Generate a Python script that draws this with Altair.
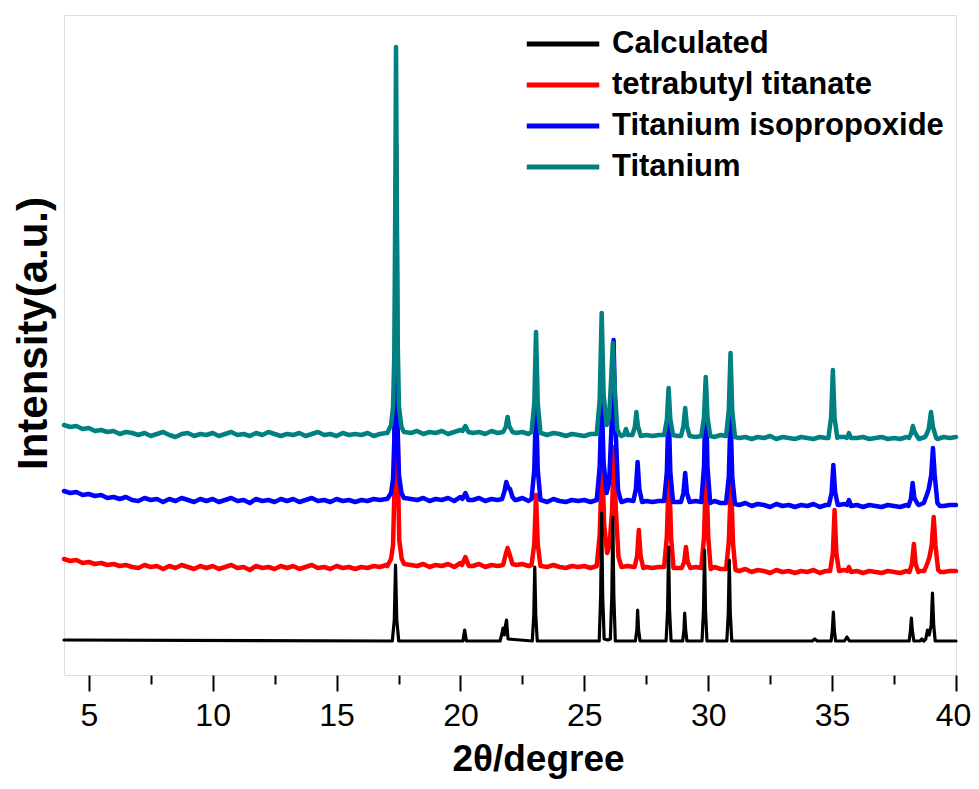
import altair as alt
import pandas as pd

SERIES = ["Calculated", "tetrabutyl titanate", "Titanium isopropoxide", "Titanium"]
COLORS = ["#000000", "#ff0000", "#0000ff", "#008080"]
X_TICKS = [5, 7.5, 10, 12.5, 15, 17.5, 20, 22.5, 25, 27.5, 30, 32.5, 35, 37.5, 40]

# baseline sampling positions (2theta, step 0.25)
GRID_X = [round(4 + 0.25 * i, 2) for i in range(145)]

TEAL_BASE = [250, 248, 249, 246, 247, 244, 245, 243, 244, 241, 243, 242,
             240, 242, 239, 241, 243, 240, 238, 241, 242, 239, 241, 240,
             242, 239, 241, 243, 240, 241, 239, 242, 240, 243, 241, 239,
             241, 240, 242, 239, 241, 243, 240, 241, 239, 242, 240, 241,
             240, 242, 239, 241, 242, 242, 243, 243, 242, 244, 241, 243,
             242, 244, 241, 243, 245, 244, 242, 243, 241, 244, 242, 243,
             244, 242, 243, 241, 243, 242, 240, 242, 241, 239, 241, 240,
             239, 241, 240, 242, 240, 241, 239, 241, 240, 238, 240, 239,
             240, 238, 240, 239, 241, 239, 238, 240, 239, 238, 240, 238,
             239, 237, 238, 236, 238, 237, 239, 236, 238, 237, 236, 238,
             237, 236, 238, 237, 239, 238, 238, 236, 237, 238, 236, 237,
             238, 236, 237, 236, 238, 237, 236, 238, 237, 236, 238, 237,
             238]
BLUE_BASE = [184, 182, 183, 180, 181, 179, 180, 177, 178, 176, 178, 175,
             174, 177, 175, 176, 173, 176, 174, 177, 175, 173, 176, 174,
             176, 173, 175, 177, 174, 175, 172, 176, 174, 175, 173, 176,
             174, 176, 173, 175, 177, 174, 175, 173, 176, 174, 175, 173,
             175, 174, 176, 175, 176, 177, 178, 177, 176, 175, 177, 174,
             176, 175, 177, 174, 178, 176, 175, 177, 174, 176, 175, 177,
             176, 175, 177, 174, 176, 175, 173, 176, 174, 173, 175, 174,
             175, 173, 174, 176, 174, 175, 173, 175, 174, 172, 174, 173,
             174, 172, 174, 173, 175, 172, 174, 173, 172, 174, 172, 173,
             171, 170, 172, 169, 171, 170, 168, 171, 169, 170, 168, 170,
             169, 171, 168, 170, 171, 170, 171, 169, 170, 168, 170, 169,
             168, 170, 169, 168, 170, 169, 170, 168, 169, 171, 169, 170,
             170]
RED_BASE = [116, 114, 115, 112, 113, 111, 112, 110, 111, 109, 110, 108,
            107, 110, 108, 109, 106, 109, 107, 110, 108, 106, 109, 107,
            109, 106, 108, 110, 107, 108, 105, 109, 107, 108, 106, 109,
            107, 109, 106, 108, 110, 107, 108, 106, 109, 107, 108, 106,
            108, 107, 109, 108, 110, 111, 112, 111, 110, 109, 111, 108,
            110, 109, 111, 108, 112, 110, 109, 111, 108, 110, 109, 111,
            112, 110, 111, 109, 110, 109, 108, 110, 108, 107, 109, 108,
            109, 107, 108, 110, 108, 109, 107, 109, 108, 106, 108, 107,
            108, 106, 108, 107, 109, 106, 108, 107, 106, 108, 106, 107,
            105, 104, 106, 103, 105, 104, 102, 105, 103, 104, 102, 104,
            103, 105, 102, 104, 105, 104, 105, 103, 104, 102, 104, 103,
            102, 104, 103, 102, 104, 103, 104, 102, 103, 105, 103, 104,
            104]

TEAL_PEAKS = [
    [(17.05, 242), (17.2, 250), (17.28, 268), (17.33, 320), (17.37, 470), (17.40, 628),
     (17.43, 480), (17.47, 330), (17.52, 268), (17.62, 248), (17.72, 243)],
    [(20.08, 244), (20.2, 249), (20.32, 243)],
    [(21.72, 243), (21.83, 248), (21.9, 258), (21.97, 249), (22.1, 243)],
    [(22.87, 243), (22.98, 272), (23.05, 343), (23.12, 272), (23.23, 242)],
    [(25.5, 241), (25.62, 275), (25.7, 362), (25.78, 280), (25.9, 250), (26.0, 258),
     (26.08, 295), (26.15, 332), (26.22, 290), (26.33, 245), (26.45, 240)],
    [(26.6, 240), (26.68, 246), (26.76, 240)],
    [(26.94, 240), (27.04, 248), (27.1, 263), (27.16, 249), (27.28, 239)],
    [(28.22, 240), (28.33, 255), (28.4, 287), (28.47, 256), (28.58, 240)],
    [(28.9, 239), (29.0, 249), (29.07, 267), (29.14, 249), (29.25, 239)],
    [(29.72, 239), (29.83, 258), (29.9, 298), (29.97, 258), (30.08, 239)],
    [(30.72, 239), (30.83, 265), (30.9, 322), (30.97, 264), (31.08, 238)],
    [(34.85, 237), (34.96, 258), (35.03, 305), (35.1, 257), (35.21, 237)],
    [(35.6, 237), (35.68, 242), (35.76, 237)],
    [(38.1, 237), (38.2, 242), (38.26, 249), (38.33, 243), (38.45, 238)],
    [(38.78, 239), (38.9, 246), (38.99, 263), (39.07, 248), (39.2, 237)],
]
BLUE_PEAKS = [
    [(17.05, 176), (17.2, 182), (17.28, 196), (17.33, 235), (17.37, 300), (17.40, 369),
     (17.43, 310), (17.47, 240), (17.52, 200), (17.62, 182), (17.72, 177)],
    [(20.08, 176), (20.2, 182), (20.32, 175)],
    [(21.68, 176), (21.78, 184), (21.85, 193), (21.93, 187), (22.0, 186), (22.1, 178), (22.2, 175)],
    [(22.87, 176), (22.98, 205), (23.05, 275), (23.12, 205), (23.23, 175)],
    [(25.5, 175), (25.62, 208), (25.7, 278), (25.78, 212), (25.9, 182), (26.0, 192),
     (26.1, 250), (26.18, 335), (26.25, 255), (26.36, 185), (26.48, 174)],
    [(26.98, 174), (27.08, 186), (27.15, 213), (27.22, 186), (27.33, 173)],
    [(28.22, 174), (28.33, 203), (28.4, 270), (28.47, 203), (28.58, 173)],
    [(28.9, 173), (29.0, 182), (29.07, 202), (29.14, 182), (29.25, 173)],
    [(29.72, 173), (29.83, 208), (29.9, 290), (29.97, 208), (30.08, 172)],
    [(30.72, 172), (30.83, 198), (30.9, 260), (30.97, 198), (31.08, 171)],
    [(34.87, 170), (34.98, 182), (35.05, 210), (35.12, 183), (35.23, 170)],
    [(35.6, 170), (35.68, 175), (35.76, 169)],
    [(38.08, 169), (38.18, 176), (38.25, 192), (38.32, 177), (38.45, 171)],
    [(38.7, 172), (38.82, 180), (38.9, 186), (39.0, 200), (39.07, 227), (39.14, 200),
     (39.25, 172), (39.35, 169)],
]
RED_PEAKS = [
    [(17.05, 109), (17.2, 116), (17.28, 130), (17.33, 180), (17.37, 380), (17.41, 531),
     (17.44, 400), (17.48, 200), (17.53, 135), (17.63, 116), (17.73, 111)],
    [(20.06, 110), (20.2, 118), (20.34, 109)],
    [(21.72, 110), (21.82, 120), (21.9, 127), (21.98, 121), (22.1, 111)],
    [(22.87, 110), (22.98, 131), (23.05, 180), (23.12, 131), (23.23, 109)],
    [(25.5, 109), (25.62, 140), (25.72, 218), (25.8, 150), (25.92, 122), (26.02, 130),
     (26.12, 165), (26.2, 228), (26.27, 165), (26.38, 118), (26.5, 108)],
    [(27.03, 108), (27.13, 119), (27.2, 145), (27.27, 119), (27.38, 107)],
    [(28.22, 108), (28.33, 138), (28.42, 210), (28.5, 138), (28.6, 107)],
    [(28.93, 107), (29.03, 113), (29.1, 128), (29.17, 113), (29.28, 107)],
    [(29.72, 107), (29.83, 138), (29.92, 212), (30.0, 138), (30.1, 106)],
    [(30.72, 106), (30.83, 133), (30.92, 195), (31.0, 132), (31.1, 105)],
    [(34.92, 104), (35.03, 122), (35.1, 165), (35.17, 122), (35.28, 104)],
    [(35.6, 104), (35.68, 108), (35.76, 103)],
    [(38.12, 103), (38.22, 111), (38.3, 131), (38.37, 111), (38.48, 103)],
    [(38.72, 104), (38.85, 112), (38.93, 118), (39.02, 130), (39.1, 158), (39.17, 130),
     (39.28, 105), (39.38, 103)],
]
CALC_POINTS = [
    (4.0, 35), (17.25, 34), (17.33, 55), (17.38, 110), (17.43, 55), (17.51, 34),
    (20.1, 34), (20.17, 45), (20.24, 34),
    (21.6, 34), (21.68, 42), (21.72, 47), (21.77, 40), (21.82, 50), (21.86, 55), (21.92, 36),
    (22.9, 34), (22.96, 60), (23.0, 108), (23.04, 60), (23.1, 34),
    (25.6, 34), (25.66, 80), (25.7, 162), (25.74, 80), (25.8, 36), (25.95, 35),
    (26.05, 36), (26.11, 80), (26.15, 158), (26.19, 80), (26.25, 34),
    (27.06, 34), (27.12, 45), (27.15, 65), (27.19, 45), (27.25, 34),
    (28.3, 34), (28.36, 65), (28.4, 128), (28.44, 65), (28.5, 34),
    (28.97, 34), (29.02, 45), (29.05, 62), (29.09, 45), (29.14, 34),
    (29.75, 34), (29.81, 65), (29.85, 125), (29.89, 65), (29.95, 34),
    (30.75, 34), (30.81, 62), (30.85, 115), (30.89, 62), (30.95, 34),
    (34.2, 34), (34.3, 36), (34.4, 34),
    (34.96, 34), (35.01, 45), (35.05, 63), (35.09, 45), (35.14, 34),
    (35.5, 34), (35.6, 38), (35.7, 34),
    (38.11, 34), (38.16, 44), (38.2, 57), (38.24, 44), (38.3, 34),
    (38.55, 34), (38.62, 36), (38.7, 34),
    (38.78, 36), (38.85, 45), (38.92, 40), (39.0, 50), (39.05, 82), (39.1, 50), (39.16, 34),
    (40.0, 34),
]


def build(name, base, peaks):
    spans = [(min(p[0] for p in c), max(p[0] for p in c)) for c in peaks]
    pts = [(x, v) for x, v in zip(GRID_X, base)
           if not any(a <= x <= b for a, b in spans)]
    for c in peaks:
        pts.extend(c)
    pts.sort()
    return pd.DataFrame({"x": [p[0] for p in pts], "y": [p[1] for p in pts], "series": name})


frames = {
    SERIES[1]: build(SERIES[1], RED_BASE, RED_PEAKS),
    SERIES[2]: build(SERIES[2], BLUE_BASE, BLUE_PEAKS),
    SERIES[3]: build(SERIES[3], TEAL_BASE, TEAL_PEAKS),
    SERIES[0]: pd.DataFrame({"x": [p[0] for p in CALC_POINTS],
                             "y": [p[1] for p in CALC_POINTS], "series": SERIES[0]}),
}

FONT = "Liberation Sans, Arial, Helvetica, sans-serif"

x_enc = alt.X(
    "x:Q",
    scale=alt.Scale(domain=[4, 40], nice=False, zero=False),
    axis=alt.Axis(
        values=X_TICKS,
        labelExpr="datum.value % 5 === 0 ? datum.label : ''",
        tickSize={"condition": {"test": "datum.value % 5 === 0", "value": 16}, "value": 9},
        labelOffset={"condition": {"test": "datum.value === 40", "value": -3}, "value": 0},
        tickWidth=2, tickColor="black", domain=False, grid=False,
        labelFont=FONT, labelFontSize=32, labelColor="black", labelPadding=9,
        labelFlush=False, labelOverlap=False,
        title="2θ/degree", titleFont=FONT, titleFontSize=37, titleFontWeight="bold",
        titleColor="black", titleX=474, titleY=95, titleAlign="center",
        titleBaseline="alphabetic",
    ),
)
y_enc = alt.Y(
    "y:Q",
    scale=alt.Scale(domain=[0, 660], nice=False, zero=False),
    axis=alt.Axis(
        labels=False, ticks=False, domain=False, grid=False,
        title="Intensity(a.u.)", titleFont=FONT, titleFontSize=42, titleFontWeight="bold",
        titleColor="black", titleX=-31, titleY=318, titleAngle=270,
        titleAlign="center", titleBaseline="middle",
    ),
)
color_enc = alt.Color(
    "series:N",
    scale=alt.Scale(domain=SERIES, range=COLORS),
    legend=alt.Legend(
        title=None, orient="none", legendX=482, legendY=12,
        symbolType="M-2.5,0H2.5", symbolSize=841, symbolStrokeWidth=5,
        labelFont=FONT, labelFontSize=31, labelFontWeight="bold", labelColor="black",
        labelOffset=32, rowPadding=9, padding=0, labelLimit=500,
    ),
)

layers = []
for name in [SERIES[1], SERIES[2], SERIES[3], SERIES[0]]:
    sw = 3.2 if name == SERIES[0] else 4.5
    layers.append(
        alt.Chart(frames[name]).mark_line(strokeWidth=sw, strokeJoin="round", strokeCap="round")
        .encode(x=x_enc, y=y_enc, color=color_enc)
    )

chart = alt.layer(*layers).properties(
    width=892, height=660,
    autosize=alt.AutoSizeParams(type="none"),
    padding={"left": 56, "top": 7, "right": 15, "bottom": 104},
).configure_view(stroke="black", strokeWidth=2).configure(background="white")

chart.save("out.html", embed_options={"renderer": "svg", "actions": False})
